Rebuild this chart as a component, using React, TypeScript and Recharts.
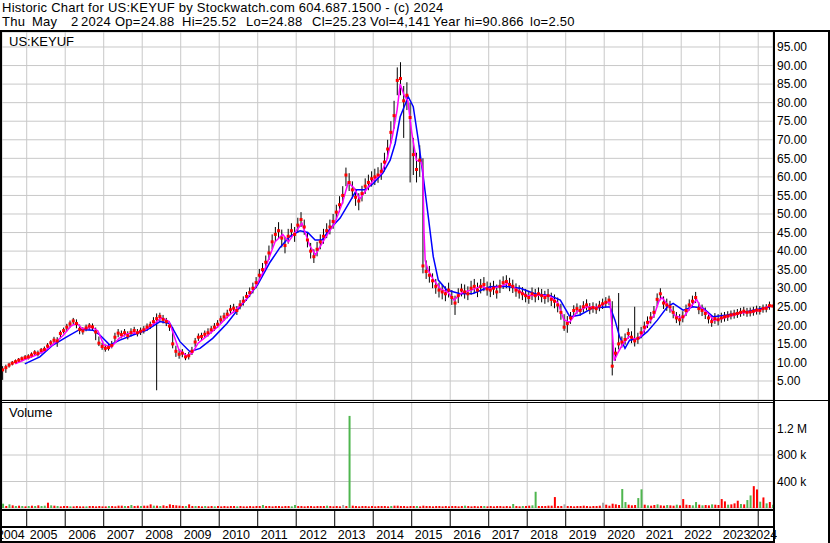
import {
  Bar,
  CartesianGrid,
  Cell,
  ComposedChart,
  ErrorBar,
  Line,
  Scatter,
  XAxis,
  YAxis,
} from "recharts";

document.body.style.margin = "0";

// x axis: fractional years
const X_MIN = 2004.358;
const X_MAX = 2024.384;
const yearTicks = [
  2005, 2006, 2007, 2008, 2009, 2010, 2011, 2012, 2013, 2014, 2015, 2016,
  2017, 2018, 2019, 2020, 2021, 2022, 2023, 2024,
];
const priceTicks = [
  5, 10, 15, 20, 25, 30, 35, 40, 45, 50, 55, 60, 65, 70, 75, 80, 85, 90, 95,
];
const volTicks = [0, 400000, 800000, 1200000];

// header line 2, each piece with its x position
const quoteLine: [string, number][] = [
  ["Thu", 2], ["May", 32], ["2", 71], ["2024", 81], ["Op=24.88", 115],
  ["Hi=25.52", 182], ["Lo=24.88", 246], ["Cl=25.23", 312], ["Vol=4,141", 370],
  ["Year hi=90.866", 433], ["lo=2.50", 530],
];

// monthly bars, first one is May 2004
const firstMonth = 2004 + 4 / 12;

// prettier-ignore
const close = [
  8.0, 8.6, 9.3, 9.8, 10.2, 10.6, 11.0, 11.3,
  11.5, 12.0, 12.6, 12.4, 13.2, 13.5, 14.4, 15.3, 16.0, 15.8, 17.8, 18.6,
  19.5, 20.4, 21.2, 20.5, 18.9, 18.5, 19.3, 19.8, 19.6, 18.2, 15.2, 14.3,
  13.8, 14.0, 14.6, 16.8, 17.9, 17.5, 18.0, 17.2, 18.1, 18.6, 18.0, 18.4,
  18.8, 19.5, 20.0, 21.0, 21.8, 22.4, 21.6, 21.0, 19.8, 15.0, 13.0, 12.2,
  12.5, 11.5, 11.8, 13.0, 15.5, 16.8, 17.0, 17.6, 18.0, 18.8, 19.5, 20.3,
  21.5, 22.3, 23.0, 24.2, 24.6, 24.0, 25.5, 26.5, 27.8, 28.8, 30.0, 31.5,
  33.5, 35.0, 37.0, 39.5, 42.5, 44.5, 45.5, 43.5, 41.5, 44.0, 45.5, 44.5,
  47.0, 48.5, 46.5, 43.0, 40.0, 38.5, 40.5, 42.5, 44.0, 45.5, 46.5, 48.0,
  50.5, 52.5, 55.0, 60.5, 58.5, 56.5, 54.5, 53.5, 55.5, 57.5, 58.5, 59.5,
  60.0, 60.5, 61.5, 64.0, 67.5, 72.0, 76.5, 86.0, 86.5, 80.5, 82.0, 76.0,
  66.0, 62.0, 64.5, 36.0, 34.5, 33.5, 32.0, 30.5, 29.5, 29.0, 28.5, 29.5,
  27.5, 26.0, 28.0, 29.5, 29.0, 28.5, 30.0, 30.5, 29.5, 30.5, 31.0, 29.8,
  29.5, 30.0, 29.0, 30.5, 31.5, 31.8, 31.0, 30.5, 29.5, 29.0, 28.5, 28.0,
  27.5, 28.5, 28.0, 28.5, 28.0, 27.5, 28.0, 27.0, 26.5, 25.5, 23.5, 19.5,
  20.5, 22.0, 24.0, 24.5, 24.0, 25.0, 25.5, 24.5, 24.8, 24.5, 25.2, 25.8,
  26.2, 26.8, 9.0, 12.5, 15.0, 15.5, 16.2, 17.8, 16.8, 15.8, 16.5, 18.0,
  19.5, 20.8, 22.0, 23.5, 27.0, 28.5, 26.0, 25.5, 25.0, 23.5, 22.0, 21.5,
  22.3, 24.0, 25.5, 26.5, 27.5, 24.5, 24.0, 23.2, 22.0, 21.0, 21.8, 21.5,
  22.0, 22.3, 22.5, 22.8, 23.0, 23.2, 23.5, 23.8, 23.5, 23.6, 23.8, 24.1,
  24.0, 24.5, 24.6, 25.3, 25.2,
];

// prettier-ignore
const high = [
  9.0, 9.4, 9.9, 10.4, 10.8, 11.2, 11.6, 12.0,
  12.2, 12.7, 13.3, 13.2, 13.9, 14.3, 15.2, 16.0, 16.9, 16.8, 18.6, 19.4,
  20.4, 21.3, 22.0, 21.6, 20.2, 19.5, 20.2, 20.6, 20.5, 19.4, 17.0, 15.3,
  14.8, 15.0, 15.8, 18.0, 19.0, 18.6, 19.0, 18.4, 19.2, 19.6, 19.0, 19.4,
  19.8, 20.5, 21.0, 22.2, 23.2, 23.4, 22.8, 22.0, 21.0, 19.5, 14.5, 13.4,
  13.6, 12.5, 12.8, 14.2, 16.6, 17.8, 18.0, 18.6, 19.2, 19.8, 20.6, 21.4,
  22.6, 23.4, 24.2, 25.5, 25.8, 25.2, 26.8, 27.8, 29.0, 30.2, 31.5, 33.0,
  35.2, 36.8, 38.8, 41.5, 44.5, 46.5, 47.8, 45.8, 43.8, 46.0, 47.5, 46.5,
  49.0, 50.5, 48.5, 45.0, 42.2, 40.5, 42.5, 44.5, 46.0, 47.5, 48.5, 50.0,
  52.5, 54.8, 57.5, 62.5, 61.0, 58.8, 56.8, 55.6, 57.6, 59.6, 60.6, 61.5,
  62.2, 62.6, 63.8, 66.5, 70.0, 75.0, 80.5, 89.5, 90.9, 84.5, 85.5, 80.0,
  70.5, 66.5, 68.5, 65.0, 37.5, 36.0, 34.0, 32.5, 31.5, 31.0, 30.5, 31.5,
  29.5, 28.0, 30.0, 31.2, 31.0, 30.5, 32.0, 32.5, 31.5, 32.5, 33.0, 31.8,
  31.5, 32.0, 31.0, 32.3, 33.2, 33.5, 32.8, 32.3, 31.3, 30.8, 30.3, 29.8,
  29.3, 30.2, 29.8, 30.2, 29.8, 29.3, 29.8, 28.8, 28.3, 27.5, 25.8, 23.0,
  22.5, 23.6, 25.4, 25.9, 25.4, 26.5, 27.0, 26.0, 26.2, 25.9, 26.6, 27.2,
  27.6, 28.0, 26.5, 14.0, 28.7, 17.0, 17.8, 19.2, 18.4, 25.0, 18.0, 19.6,
  21.0, 22.4, 23.6, 25.2, 28.6, 30.0, 27.8, 27.2, 26.6, 25.2, 23.6, 23.0,
  23.8, 25.6, 27.0, 28.0, 29.0, 26.2, 25.6, 24.8, 23.6, 22.6, 23.3, 23.0,
  23.4, 23.6, 23.8, 24.0, 24.2, 24.4, 24.7, 25.0, 24.7, 24.8, 25.0, 25.3,
  25.2, 25.6, 25.7, 26.4, 25.5,
];

// prettier-ignore
const low = [
  5.3, 7.2, 8.6, 9.2, 9.6, 10.0, 10.3, 10.7,
  10.8, 11.3, 11.9, 11.6, 12.4, 12.8, 13.6, 14.5, 15.0, 14.2, 16.5, 17.8,
  18.4, 19.4, 20.2, 19.2, 17.6, 17.5, 18.4, 18.8, 18.5, 16.0, 14.4, 13.4,
  12.9, 13.2, 13.8, 15.5, 16.8, 16.5, 17.0, 16.2, 17.0, 17.6, 17.0, 17.4,
  17.8, 18.5, 19.0, 19.8, 2.5, 21.2, 20.5, 19.8, 18.5, 13.8, 11.5, 11.0,
  11.4, 10.6, 10.8, 12.0, 14.2, 15.8, 16.0, 16.6, 17.0, 17.8, 18.5, 19.3,
  20.4, 21.2, 21.9, 23.0, 23.4, 22.8, 24.3, 25.3, 26.6, 27.6, 28.6, 30.0,
  31.8, 33.4, 35.2, 37.6, 40.5, 42.5, 43.4, 41.0, 39.4, 42.0, 43.5, 42.5,
  45.0, 46.5, 44.4, 41.0, 38.0, 36.8, 38.6, 40.5, 42.0, 43.5, 44.5, 46.0,
  48.5, 50.5, 52.8, 57.5, 56.2, 54.2, 52.2, 51.0, 53.4, 55.4, 56.4, 57.4,
  57.8, 58.4, 59.2, 61.5, 65.0, 69.0, 73.0, 82.0, 82.0, 70.5, 78.0, 58.5,
  60.5, 58.5, 60.0, 34.0, 32.5, 31.5, 30.0, 28.5, 27.5, 27.0, 26.5, 27.5,
  25.5, 22.8, 26.0, 27.8, 27.2, 26.8, 28.2, 28.6, 27.6, 28.6, 29.2, 28.0,
  27.6, 28.2, 27.2, 28.7, 29.8, 30.0, 29.2, 28.7, 27.7, 27.2, 26.8, 26.2,
  25.8, 26.8, 26.2, 26.8, 26.2, 25.8, 26.2, 25.2, 24.6, 23.5, 21.5, 18.5,
  18.0, 20.4, 22.6, 23.1, 22.6, 23.5, 24.0, 23.0, 23.4, 23.1, 23.8, 24.4,
  24.8, 25.4, 6.5, 10.5, 13.5, 14.0, 14.8, 16.4, 15.2, 14.3, 15.0, 16.5,
  18.0, 19.3, 20.5, 22.0, 25.2, 26.8, 24.4, 23.9, 23.4, 21.9, 20.6, 20.0,
  20.8, 22.5, 24.0, 25.0, 26.0, 23.0, 22.5, 21.7, 20.5, 19.6, 20.4, 20.0,
  20.7, 21.0, 21.2, 21.6, 21.8, 22.0, 22.3, 22.6, 22.3, 22.4, 22.6, 22.9,
  22.9, 23.4, 23.5, 24.2, 24.9,
];

// volume in thousands of shares
// prettier-ignore
const volume = [
  65, 30, 55, 40, 30, 35, 30, 25,
  30, 35, 30, 40, 30, 35, 80, 40, 35, 30, 25, 30,
  30, 25, 25, 30, 25, 25, 25, 30, 30, 25, 30, 25,
  25, 30, 30, 25, 35, 35, 30, 30, 45, 30, 35, 30,
  35, 35, 55, 35, 35, 30, 40, 30, 55, 45, 40, 35,
  30, 30, 55, 30, 30, 30, 25, 30, 25, 30, 25, 30,
  25, 30, 25, 30, 30, 25, 30, 25, 25, 30, 25, 30,
  30, 45, 30, 30, 25, 30, 30, 25, 30, 30, 25, 45,
  30, 30, 25, 30, 30, 25, 30, 30, 30, 35, 30, 25,
  30, 25, 45, 30, 1390, 35, 30, 25, 30, 30, 25, 30,
  25, 30, 30, 30, 25, 30, 35, 35, 30, 30, 25, 30,
  30, 30, 25, 35, 30, 30, 25, 30, 30, 25, 30, 25,
  30, 30, 25, 30, 35, 30, 25, 30, 25, 30, 30, 25,
  30, 25, 30, 30, 25, 30, 25, 60, 30, 25, 30, 30,
  35, 40, 245, 30, 30, 30, 35, 35, 165, 30, 30, 55,
  30, 30, 25, 30, 30, 35, 30, 25, 30, 30, 35, 80,
  50, 35, 65, 55, 45, 287, 90, 50, 40, 45, 150, 282,
  50, 40, 35, 45, 55, 40, 35, 45, 40, 35, 50, 40,
  135, 50, 45, 40, 90, 50, 40, 45, 40, 55, 50, 45,
  135, 100, 50, 55, 70, 110, 60, 55, 120, 190, 330, 280,
  95, 160, 70, 90, 50,
];

// g = up, r = down, n = unchanged
const volColor = [
  "grgrgrgr",
  "grgrggrgrgrr",
  "rgrrrrgrrrrr",
  "rgrrrrgrgrrg",
  "rrrgrgrrrrrr",
  "rgrrgrrgrrgr",
  "rrrrrgrrrrrr",
  "rgrrrrrrrrgg",
  "rrrrrrrrrgrr",
  "rrnrgrrrrrrr",
  "rrrrrgrrrrrr",
  "rgrrrrrrrrrr",
  "rrrrgrrrrrgr",
  "rrrrrrrgrrgr",
  "rggrrrrrrrrn",
  "rrrrrrrrrrrn",
  "rrrrrggrrrgg",
  "rgrrgrrgrrgr",
  "rrrggrgrrgrr",
  "rrgrrrgrggrr",
  "grgrg",
].join("");

// short moving average (magenta): [year, value]
const fastMa: [number, number][] = [
  [2004.7, 9.6], [2004.95, 10.8], [2005.2, 11.8], [2005.45, 13.0],
  [2005.7, 15.0], [2005.95, 17.3], [2006.15, 19.8], [2006.3, 20.6],
  [2006.45, 19.0], [2006.7, 19.5], [2006.85, 18.5], [2007.0, 14.8],
  [2007.2, 14.2], [2007.4, 16.5], [2007.6, 17.7], [2007.85, 18.0],
  [2008.1, 19.0], [2008.35, 20.8], [2008.5, 22.0], [2008.7, 21.0],
  [2008.8, 18.0], [2008.95, 13.5], [2009.15, 11.8], [2009.3, 12.5],
  [2009.45, 15.2], [2009.7, 17.3], [2009.95, 19.5], [2010.2, 22.2],
  [2010.45, 24.3], [2010.7, 27.0], [2010.95, 30.5], [2011.2, 35.5],
  [2011.45, 42.5], [2011.65, 44.5], [2011.8, 42.5], [2012.0, 45.5],
  [2012.15, 47.5], [2012.35, 41.5], [2012.5, 39.0], [2012.75, 43.5],
  [2013.0, 47.5], [2013.2, 53.0], [2013.35, 58.5], [2013.5, 57.0],
  [2013.65, 54.0], [2013.85, 57.0], [2014.0, 59.0], [2014.2, 60.8],
  [2014.35, 64.5], [2014.5, 71.0], [2014.62, 78.0], [2014.7, 85.0],
  [2014.8, 82.0], [2014.9, 80.5], [2015.0, 72.0], [2015.12, 64.5],
  [2015.25, 64.0], [2015.29, 62.0], [2015.32, 45.0], [2015.35, 37.5],
  [2015.42, 35.0], [2015.55, 32.5], [2015.75, 29.8], [2015.95, 28.8],
  [2016.1, 26.8], [2016.3, 28.8], [2016.55, 29.5], [2016.8, 30.5],
  [2017.0, 29.8], [2017.3, 30.5], [2017.5, 31.3], [2017.75, 29.5],
  [2018.0, 28.0], [2018.3, 28.2], [2018.6, 27.8], [2018.8, 26.0],
  [2018.95, 21.5], [2019.1, 20.8], [2019.3, 23.8], [2019.55, 25.0],
  [2019.8, 24.8], [2020.0, 25.8], [2020.15, 26.5], [2020.2, 20.0],
  [2020.26, 10.5], [2020.35, 12.5], [2020.5, 15.3], [2020.65, 17.0],
  [2020.8, 16.3], [2020.95, 17.0], [2021.1, 19.8], [2021.3, 22.8],
  [2021.42, 26.5], [2021.5, 27.5], [2021.65, 25.5], [2021.85, 22.5],
  [2022.05, 22.0], [2022.25, 25.0], [2022.4, 27.0], [2022.5, 25.0],
  [2022.7, 23.2], [2022.85, 21.3], [2023.0, 21.7], [2023.3, 22.6],
  [2023.6, 23.4], [2023.85, 23.6], [2024.1, 24.3], [2024.3, 25.3],
];

// long moving average (blue): [year, value]
const slowMa: [number, number][] = [
  [2004.95, 9.6], [2005.34, 11.5], [2005.68, 14.7], [2006.04, 16.9],
  [2006.38, 18.9], [2006.72, 18.7], [2006.9, 17.4], [2007.16, 14.7],
  [2007.42, 16.0], [2007.76, 17.4], [2008.12, 18.7], [2008.46, 21.0],
  [2008.72, 20.5], [2008.98, 15.6], [2009.24, 12.9], [2009.5, 13.8],
  [2009.83, 16.5], [2010.2, 20.5], [2010.54, 25.0], [2010.74, 27.4],
  [2011.0, 31.0], [2011.32, 37.0], [2011.58, 41.0], [2011.84, 44.0],
  [2012.1, 45.5], [2012.3, 45.0], [2012.49, 43.0], [2012.67, 43.0],
  [2012.88, 46.0], [2013.14, 48.9], [2013.4, 53.5], [2013.57, 56.5],
  [2013.79, 56.5], [2014.0, 58.2], [2014.25, 61.0], [2014.44, 64.5],
  [2014.57, 69.0], [2014.7, 76.2], [2014.91, 81.6], [2015.04, 78.9],
  [2015.17, 70.0], [2015.3, 60.0], [2015.43, 49.3], [2015.56, 38.5],
  [2015.69, 32.2], [2015.91, 29.5], [2016.26, 28.5], [2016.59, 28.6],
  [2017.03, 30.4], [2017.43, 30.5], [2017.82, 30.0], [2018.2, 28.5],
  [2018.6, 28.0], [2018.86, 26.8], [2019.11, 22.3], [2019.37, 22.8],
  [2019.71, 24.7], [2020.15, 25.0], [2020.28, 21.4], [2020.4, 16.9],
  [2020.54, 13.8], [2020.66, 16.0], [2020.92, 16.6], [2021.12, 18.3],
  [2021.38, 21.4], [2021.64, 25.0], [2021.79, 25.9], [2022.05, 24.1],
  [2022.31, 25.0], [2022.57, 24.6], [2022.83, 22.3], [2023.2, 22.8],
  [2023.72, 23.7], [2024.31, 25.0],
];

const colorMap: Record<string, string> = {
  g: "#4fb64f",
  r: "#ff0000",
  n: "#a8a8a8",
};

const priceData = close.map((c, i) => ({
  t: firstMonth + (i + 0.5) / 12,
  close: c,
  range: [c - low[i], high[i] - c],
}));

const volData = volume.map((v, i) => ({
  t: firstMonth + (i + 0.5) / 12,
  vol: v * 1000,
  color: colorMap[volColor[i]] ?? colorMap.r,
}));

const fastData = fastMa.map(([t, v]) => ({ t, v }));
const slowData = slowMa.map(([t, v]) => ({ t, v }));

const FONT = '"Liberation Sans", Arial, sans-serif';
const lastYear = yearTicks[yearTicks.length - 1];

function CloseMark(props: any) {
  const { cx, cy } = props;
  if (cx == null || cy == null) return null;
  return <rect x={cx - 1.5} y={cy - 1.5} width={3} height={3} fill="#ff0000" />;
}

function YearTick(props: any) {
  const { x, y, payload, index } = props;
  const last = payload.value === lastYear;
  return (
    <g>
      <line x1={x} x2={x} y1={y + 2} y2={y + 19} stroke="#000" />
      <text
        x={last ? x + 19 : x + 3}
        y={y + 31}
        fontSize={12.5}
        fill="#000"
        textAnchor={last ? "end" : "start"}
      >
        {payload.value}
      </text>
      {index === 0 && (
        <text x={x - 2} y={y + 31} fontSize={12.5} fill="#000" textAnchor="end">
          {payload.value - 1}
        </text>
      )}
    </g>
  );
}

function formatVol(v: number) {
  if (v === 0) return "";
  if (v >= 1000000) return `${v / 1000000} M`;
  return `${v / 1000} k`;
}

const line = (
  left: number,
  top: number,
  width: number,
  height: number,
): React.CSSProperties => ({
  position: "absolute",
  left,
  top,
  width,
  height,
  background: "#000",
});

export default function App() {
  return (
    <div
      style={{
        position: "relative",
        width: 830,
        height: 543,
        background: "#fff",
        fontFamily: FONT,
        overflow: "hidden",
      }}
    >
      <div
        style={{
          position: "absolute",
          left: 2,
          top: 1,
          fontSize: 13,
          lineHeight: "14px",
          whiteSpace: "pre",
          letterSpacing: 0.25,
          color: "#000",
        }}
      >
        Historic Chart for US:KEYUF by Stockwatch.com 604.687.1500 - (c) 2024
      </div>
      {quoteLine.map(([s, x]) => (
        <div
          key={s}
          style={{
            position: "absolute",
            left: x,
            top: 15,
            fontSize: 13,
            lineHeight: "14px",
            whiteSpace: "pre",
            letterSpacing: 0.25,
            color: "#000",
          }}
        >
          {s}
        </div>
      ))}

      <div style={{ position: "absolute", left: 0, top: 32 }}>
        <ComposedChart
          width={830}
          height={368}
          margin={{ top: 0, right: 0, bottom: 0, left: 2 }}
        >
          <CartesianGrid stroke="#c8c8c8" />
          <XAxis
            dataKey="t"
            type="number"
            domain={[X_MIN, X_MAX]}
            ticks={yearTicks}
            allowDataOverflow
            hide
          />
          <YAxis
            orientation="right"
            type="number"
            domain={[-0.12, 99.04]}
            ticks={priceTicks}
            interval={0}
            allowDataOverflow
            width={57}
            axisLine={false}
            tickLine={false}
            tickSize={0}
            tickMargin={4}
            tick={{ fontSize: 12, fill: "#000" }}
            tickFormatter={(v: number) => v.toFixed(2)}
          />
          <Scatter
            data={priceData}
            dataKey="close"
            shape={<CloseMark />}
            isAnimationActive={false}
          >
            <ErrorBar
              dataKey="range"
              direction="y"
              width={0}
              stroke="#000"
              strokeWidth={1}
              isAnimationActive={false}
            />
          </Scatter>
          <Line
            data={slowData}
            dataKey="v"
            type="linear"
            stroke="#0000ff"
            strokeWidth={1.5}
            dot={false}
            isAnimationActive={false}
          />
          <Line
            data={fastData}
            dataKey="v"
            type="linear"
            stroke="#ff00ff"
            strokeWidth={1.5}
            dot={false}
            isAnimationActive={false}
          />
        </ComposedChart>
      </div>

      <div style={{ position: "absolute", left: 0, top: 402 }}>
        <ComposedChart
          width={830}
          height={141}
          data={volData}
          margin={{ top: 0, right: 0, bottom: 0, left: 2 }}
        >
          <CartesianGrid stroke="#c8c8c8" />
          <XAxis
            dataKey="t"
            type="number"
            domain={[X_MIN, X_MAX]}
            ticks={yearTicks}
            interval={0}
            allowDataOverflow
            height={35}
            axisLine={false}
            tickLine={false}
            tickSize={0}
            tickMargin={0}
            tick={<YearTick />}
          />
          <YAxis
            orientation="right"
            type="number"
            domain={[0, 1600000]}
            ticks={volTicks}
            interval={0}
            allowDataOverflow
            width={57}
            axisLine={false}
            tickLine={false}
            tickSize={0}
            tickMargin={4}
            tick={{ fontSize: 12, fill: "#000" }}
            tickFormatter={formatVol}
          />
          <Bar dataKey="vol" barSize={2} isAnimationActive={false}>
            {volData.map((d, i) => (
              <Cell key={i} fill={d.color} />
            ))}
          </Bar>
        </ComposedChart>
      </div>

      <div
        style={{
          position: "absolute",
          left: 9,
          top: 34,
          fontSize: 13,
          lineHeight: "15px",
        }}
      >
        US:KEYUF
      </div>
      <div
        style={{
          position: "absolute",
          left: 9,
          top: 405,
          fontSize: 13,
          lineHeight: "15px",
        }}
      >
        Volume
      </div>

      <div style={{ position: "absolute", left: 777, top: 509, width: 51, height: 34, background: "#fff" }} />
      <div style={line(0, 30, 830, 2)} />
      <div style={line(0, 30, 2, 513)} />
      <div style={line(773, 30, 2, 513)} />
      <div style={line(828, 30, 2, 513)} />
      <div style={line(0, 400, 830, 1)} />
      <div style={line(0, 402, 775, 1)} />
      <div style={line(0, 509, 775, 2)} />
      <div style={line(0, 526, 775, 2)} />
      <div style={line(0, 541, 775, 2)} />
    </div>
  );
}
